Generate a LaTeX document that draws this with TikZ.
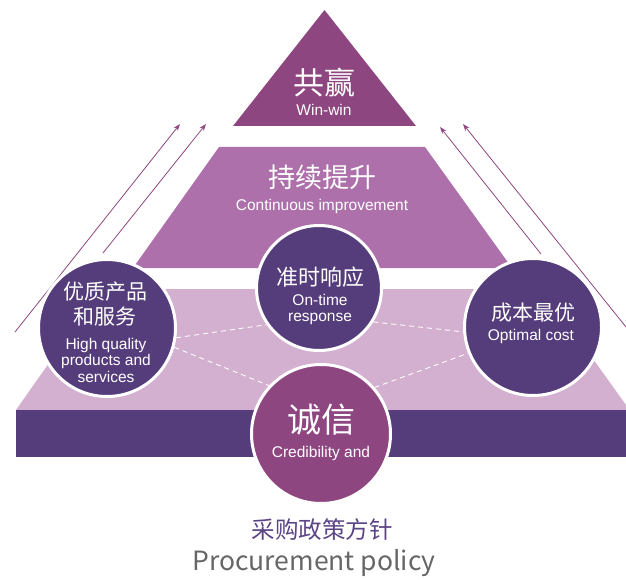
\documentclass[tikz,border=0pt]{standalone}
\usepackage{fontspec}
\setmainfont{Liberation Sans}
\newfontfamily\cjk{Noto Sans CJK SC}
\usetikzlibrary{arrows.meta}
\usepackage{xcolor}
\definecolor{plum}{HTML}{8E4681}
\definecolor{orchid}{HTML}{AD70AB}
\definecolor{lilac}{HTML}{D3AFD0}
\definecolor{grape}{HTML}{553D7B}
\definecolor{slogan}{HTML}{5B4485}
\definecolor{caption}{HTML}{666666}
\pgfdeclarelayer{back}
\pgfdeclarelayer{links}
\pgfsetlayers{back,links,main}
\tikzset{
  bubble/.style = {circle, draw=white, line width=3pt, fill=grape, inner sep=0pt},
  zhtext/.style = {text=white, align=center, inner sep=0pt},
  entext/.style = {text=white, align=center, inner sep=0pt,
                   font=\fontsize{15.5pt}{16.5pt}\selectfont},
  link/.style   = {draw=white, dash pattern=on 5pt off 4pt, line width=0.9pt},
  rise/.style   = {-{Stealth[length=7pt,width=5pt]}, draw=plum, line width=0.8pt}
}

\begin{document}
\begin{tikzpicture}[x=1pt,y=-1pt]
\useasboundingbox (0,0) rectangle (626,580);

% Pyramid tiers and base band
\begin{pgfonlayer}{back}
  \fill[plum]   (233,126) -- (324.5,10) -- (416,126) -- cycle;
  \fill[orchid] (219,147) -- (425,147) -- (512,268) -- (133,268) -- cycle;
  \fill[lilac]  (101,289) -- (543,289) -- (626,405) -- (626,410) -- (16,410) -- cycle;
  \fill[grape]  (16,410) rectangle (626,457);

  % Rising arrows on both flanks
  \coordinate (lowA) at (15,332);   \coordinate (tipA) at (180,124);
  \coordinate (lowB) at (103,253);  \coordinate (tipB) at (206,124);
  \coordinate (lowC) at (541,254);  \coordinate (tipC) at (440,127);
  \coordinate (lowD) at (626,327);  \coordinate (tipD) at (463,124);
  \draw[rise] (lowA) -- (tipA);
  \draw[rise] (lowB) -- (tipB);
  \draw[rise] (lowC) -- (tipC);
  \draw[rise] (lowD) -- (tipD);
\end{pgfonlayer}

% Four value circles
\node[bubble, minimum size=137pt] (quality) at (107,328) {};
\node[bubble, minimum size=125pt] (ontime)  at (319,288) {};
\node[bubble, minimum size=137pt] (cost)    at (533,327) {};
\node[bubble, fill=plum, minimum size=139pt] (credit) at (321,434) {};

% Dashed links between the circles
\begin{pgfonlayer}{links}
  \draw[link] (quality.-8)  -- (ontime.215);
  \draw[link] (quality.-16) -- (credit.137);
  \draw[link] (ontime.-32)  -- (cost.184);
  \draw[link] (credit.41)   -- (cost.202);
\end{pgfonlayer}

% Tier labels
\node[zhtext, font=\cjk\fontsize{31pt}{34pt}\selectfont] (winZh) at (324,83) {共赢};
\node[entext] (winEn) at (324,110) {Win-win};
\node[zhtext, font=\cjk\fontsize{27pt}{30pt}\selectfont] (riseZh) at (322,177) {持续提升};
\node[entext] (riseEn) at (322,206) {Continuous improvement};

% Circle labels
\node[zhtext, font=\cjk\fontsize{21pt}{25pt}\selectfont] (qualityZh) at (105,304.5) {优质产品\\和服务};
\node[entext] (qualityEn) at (106,360) {High quality\\products and\\services};
\node[zhtext, font=\cjk\fontsize{22pt}{25pt}\selectfont] (ontimeZh) at (320,277) {准时响应};
\node[entext] (ontimeEn) at (320,309.5) {On-time\\response};
\node[zhtext, font=\cjk\fontsize{21pt}{25pt}\selectfont] (costZh) at (533,313) {成本最优};
\node[entext] (costEn) at (531,336.5) {Optimal cost};
\node[zhtext, font=\cjk\fontsize{34pt}{38pt}\selectfont] (creditZh) at (321,420) {诚信};
\node[entext] (creditEn) at (321,453.5) {Credibility and};

% Caption
\node[font=\cjk\fontsize{23.5pt}{26pt}\selectfont, text=slogan, inner sep=0pt] (policyZh) at (322,530) {采购政策方针};
\node[font=\cjk\fontsize{26.5pt}{30pt}\selectfont, text=caption, inner sep=0pt] (policyEn) at (314,563) {Procurement policy};
\end{tikzpicture}
\end{document}
